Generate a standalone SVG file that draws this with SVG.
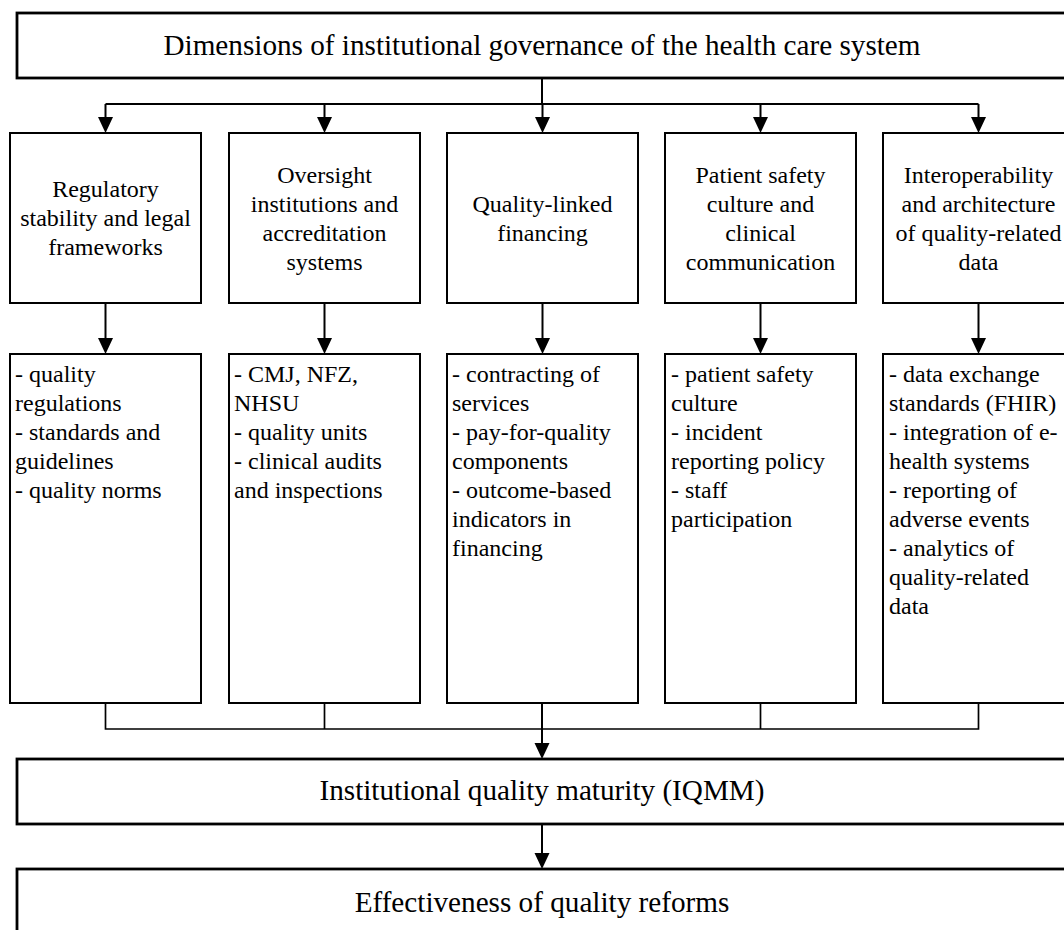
<svg xmlns="http://www.w3.org/2000/svg" width="1064" height="930" viewBox="0 0 1064 930">
<style>
.big{fill:#fff;stroke:#000;stroke-width:2.8}
.box{fill:#fff;stroke:#000;stroke-width:2}
.t{font-family:"Liberation Serif","Times New Roman",serif;fill:#000}
.title{font-size:29.2px;text-anchor:middle}
.hd{font-size:24px;text-anchor:middle}
.ls{font-size:24px}
.arr{stroke:#000;stroke-width:2;fill:none}
.thin{stroke:#000;stroke-width:1.7;fill:none}
</style>
<defs>
<marker id="ah" markerUnits="userSpaceOnUse" markerWidth="16" markerHeight="16" refX="8" refY="7.5" orient="auto">
<path d="M0,0 L16,7.5 L0,15 z" fill="#000"/>
</marker>
</defs>
<rect width="1064" height="930" fill="#fff"/>

<g id="n-top">
<rect class="big" x="17" y="13" width="1070" height="65"/>
<text class="t title" x="542" y="55">Dimensions of institutional governance of the health care system</text>
</g>

<g id="n-d1">
<rect class="box" x="10" y="133" width="191" height="170"/>
<text class="t hd" x="105.5" y="197">Regulatory</text>
<text class="t hd" x="105.5" y="226">stability and legal</text>
<text class="t hd" x="105.5" y="255">frameworks</text>
</g>
<g id="n-d2">
<rect class="box" x="229" y="133" width="191" height="170"/>
<text class="t hd" x="324.5" y="182.5">Oversight</text>
<text class="t hd" x="324.5" y="211.5">institutions and</text>
<text class="t hd" x="324.5" y="240.5">accreditation</text>
<text class="t hd" x="324.5" y="269.5">systems</text>
</g>
<g id="n-d3">
<rect class="box" x="447" y="133" width="191" height="170"/>
<text class="t hd" x="542.5" y="211.5">Quality-linked</text>
<text class="t hd" x="542.5" y="240.5">financing</text>
</g>
<g id="n-d4">
<rect class="box" x="665" y="133" width="191" height="170"/>
<text class="t hd" x="760.5" y="182.5">Patient safety</text>
<text class="t hd" x="760.5" y="211.5">culture and</text>
<text class="t hd" x="760.5" y="240.5">clinical</text>
<text class="t hd" x="760.5" y="269.5">communication</text>
</g>
<g id="n-d5">
<rect class="box" x="883" y="133" width="191" height="170"/>
<text class="t hd" x="978.5" y="182.5">Interoperability</text>
<text class="t hd" x="978.5" y="211.5">and architecture</text>
<text class="t hd" x="978.5" y="240.5">of quality-related</text>
<text class="t hd" x="978.5" y="269.5">data</text>
</g>

<g id="n-l1">
<rect class="box" x="10" y="354" width="191" height="349"/>
<text class="t ls" x="15"><tspan x="15" y="382">- quality</tspan><tspan x="15" y="411">regulations</tspan><tspan x="15" y="440">- standards and</tspan><tspan x="15" y="469">guidelines</tspan><tspan x="15" y="498">- quality norms</tspan></text>
</g>
<g id="n-l2">
<rect class="box" x="229" y="354" width="191" height="349"/>
<text class="t ls" x="234"><tspan x="234" y="382">- CMJ, NFZ,</tspan><tspan x="234" y="411">NHSU</tspan><tspan x="234" y="440">- quality units</tspan><tspan x="234" y="469">- clinical audits</tspan><tspan x="234" y="498">and inspections</tspan></text>
</g>
<g id="n-l3">
<rect class="box" x="447" y="354" width="191" height="349"/>
<text class="t ls" x="452"><tspan x="452" y="382">- contracting of</tspan><tspan x="452" y="411">services</tspan><tspan x="452" y="440">- pay-for-quality</tspan><tspan x="452" y="469">components</tspan><tspan x="452" y="498">- outcome-based</tspan><tspan x="452" y="527">indicators in</tspan><tspan x="452" y="556">financing</tspan></text>
</g>
<g id="n-l4">
<rect class="box" x="665" y="354" width="191" height="349"/>
<text class="t ls" x="671"><tspan x="671" y="382">- patient safety</tspan><tspan x="671" y="411">culture</tspan><tspan x="671" y="440">- incident</tspan><tspan x="671" y="469">reporting policy</tspan><tspan x="671" y="498">- staff</tspan><tspan x="671" y="527">participation</tspan></text>
</g>
<g id="n-l5">
<rect class="box" x="883" y="354" width="191" height="349"/>
<text class="t ls" x="889"><tspan x="889" y="382">- data exchange</tspan><tspan x="889" y="411">standards (FHIR)</tspan><tspan x="889" y="440">- integration of e-</tspan><tspan x="889" y="469">health systems</tspan><tspan x="889" y="498">- reporting of</tspan><tspan x="889" y="527">adverse events</tspan><tspan x="889" y="556">- analytics of</tspan><tspan x="889" y="585">quality-related</tspan><tspan x="889" y="614">data</tspan></text>
</g>

<g id="n-iqmm">
<rect class="big" x="17" y="759" width="1070" height="65"/>
<text class="t title" x="542" y="800">Institutional quality maturity (IQMM)</text>
</g>
<g id="n-eff">
<rect class="big" x="17" y="869" width="1070" height="80"/>
<text class="t title" x="542" y="912">Effectiveness of quality reforms</text>
</g>

<g id="connectors">
<path class="arr" d="M542,78 V104 M105.5,104 H978.5"/>
<line class="arr" x1="105.5" y1="104" x2="105.5" y2="125" marker-end="url(#ah)"/>
<line class="arr" x1="324.5" y1="104" x2="324.5" y2="125" marker-end="url(#ah)"/>
<line class="arr" x1="542.5" y1="104" x2="542.5" y2="125" marker-end="url(#ah)"/>
<line class="arr" x1="760.5" y1="104" x2="760.5" y2="125" marker-end="url(#ah)"/>
<line class="arr" x1="978.5" y1="104" x2="978.5" y2="125" marker-end="url(#ah)"/>
<line class="arr" x1="105.5" y1="303" x2="105.5" y2="346" marker-end="url(#ah)"/>
<line class="arr" x1="324.5" y1="303" x2="324.5" y2="346" marker-end="url(#ah)"/>
<line class="arr" x1="542.5" y1="303" x2="542.5" y2="346" marker-end="url(#ah)"/>
<line class="arr" x1="760.5" y1="303" x2="760.5" y2="346" marker-end="url(#ah)"/>
<line class="arr" x1="978.5" y1="303" x2="978.5" y2="346" marker-end="url(#ah)"/>
<path class="thin" d="M105.5,703 V729 H978.5 V703 M324.5,703 V729 M760.5,703 V729"/>
<line class="arr" x1="542" y1="703" x2="542" y2="751" marker-end="url(#ah)"/>
<line class="arr" x1="542" y1="824" x2="542" y2="861" marker-end="url(#ah)"/>
</g>
</svg>
